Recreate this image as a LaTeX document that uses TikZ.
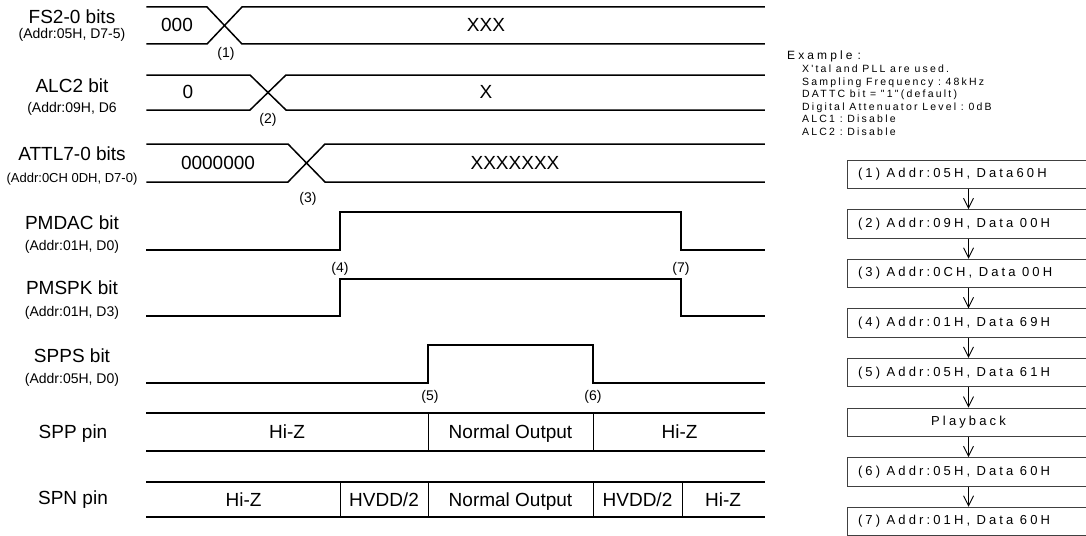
\documentclass[tikz,border=0pt]{standalone}
\usepackage{fontspec}
\setmainfont{Liberation Sans}
\newfontfamily\flowfont[LetterSpace=24]{Liberation Sans}
\newfontfamily\exfont[LetterSpace=21]{Liberation Sans}
\newfontfamily\exhfont[LetterSpace=26]{Liberation Sans}
\newcommand\flowsp{\hspace{6.5pt}}
\newcommand\exsp{\hspace{4.7pt}}
\usetikzlibrary{arrows.meta}
\tikzset{
  sig/.style={line width=1.5pt, line join=miter, line cap=rect},
  divider/.style={line width=1pt},
  biglbl/.style={font=\fontsize{19}{22}\selectfont, inner sep=0pt, text height=13.6pt, text depth=0pt},
  addrlbl/.style={font=\fontsize{14}{16}\selectfont, inner sep=0pt, text height=10pt, text depth=0pt},
  numlbl/.style={font=\fontsize{14}{16}\selectfont, inner sep=0pt, text height=10pt, text depth=0pt},
  exline/.style={font=\exfont\fontsize{10.5}{12}\selectfont, inner sep=0pt, anchor=base west},
  flowbox/.style={draw=black!75, line width=0.9pt, minimum width=243pt, minimum height=28.5pt,
    inner xsep=11pt, inner ysep=0pt, text width=221pt, align=left, font=\flowfont\fontsize{13}{15}\selectfont},
  flowarrow/.style={-{Straight Barb[length=10pt,width=10pt]}, line width=0.9pt},
}
\begin{document}
\begin{tikzpicture}[x=1pt,y=-1pt]
\useasboundingbox (0,0) rectangle (1086,535);
\clip (0,0) rectangle (1086,535);
% ---------------- signal names ----------------
\node[biglbl] (nfs) at (72,17) {FS2-0 bits};
\node[addrlbl] (afs) at (72,33) {(Addr:05H, D7-5)};
\node[biglbl] (nalc) at (72,86) {ALC2 bit};
\node[addrlbl] (aalc) at (72,107) {(Addr:09H, D6};
\node[biglbl] (natt) at (72,154) {ATTL7-0 bits};
\node[addrlbl, font=\fontsize{13}{15}\selectfont] (aatt) at (72,177) {(Addr:0CH 0DH, D7-0)};
\node[biglbl] (npmd) at (72,223) {PMDAC bit};
\node[addrlbl] (apmd) at (72,245) {(Addr:01H, D0)};
\node[biglbl] (npms) at (72,288) {PMSPK bit};
\node[addrlbl] (apms) at (72,311) {(Addr:01H, D3)};
\node[biglbl] (nsps) at (72,356) {SPPS bit};
\node[addrlbl] (asps) at (72,378) {(Addr:05H, D0)};
\node[biglbl] (nspp) at (73,432) {SPP pin};
\node[biglbl] (nspn) at (73,498) {SPN pin};
% ---------------- FS2-0 ----------------
\draw[sig] (147,7) -- (207,7) -- (242,44) -- (764,44);
\draw[sig] (147,44) -- (207,44) -- (242,7) -- (764,7);
\node[biglbl] (vfs0) at (177,25) {000};
\node[biglbl] (vfs1) at (486,25) {XXX};
\node[numlbl] (t1) at (226,52) {(1)};
% ---------------- ALC2 ----------------
\draw[sig] (147,75) -- (250,75) -- (286,110) -- (764,110);
\draw[sig] (147,110) -- (250,110) -- (286,75) -- (764,75);
\node[biglbl] (valc0) at (188,92) {0};
\node[biglbl] (valc1) at (486,92) {X};
\node[numlbl] (t2) at (268,118) {(2)};
% ---------------- ATTL7-0 ----------------
\draw[sig] (147,144) -- (288,144) -- (325,182) -- (764,182);
\draw[sig] (147,182) -- (288,182) -- (325,144) -- (764,144);
\node[biglbl] (vatt0) at (218,163) {0000000};
\node[biglbl] (vatt1) at (515,163) {XXXXXXX};
\node[numlbl] (t3) at (308,197) {(3)};
% ---------------- PMDAC ----------------
\draw[sig] (147,250) -- (340,250) -- (340,212) -- (681,212) -- (681,250) -- (764,250);
% ---------------- PMSPK ----------------
\draw[sig] (147,316) -- (340,316) -- (340,279) -- (681,279) -- (681,316) -- (764,316);
\node[numlbl] (t4) at (340,267) {(4)};
\node[numlbl] (t7) at (681,267) {(7)};
% ---------------- SPPS ----------------
\draw[sig] (147,383) -- (428,383) -- (428,345) -- (593,345) -- (593,383) -- (764,383);
\node[numlbl] (t5) at (430,395) {(5)};
\node[numlbl] (t6) at (593,395) {(6)};
% ---------------- SPP pin ----------------
\draw[sig] (147,413) -- (764,413);
\draw[sig] (147,451) -- (764,451);
\draw[divider] (428,413) -- (428,451);
\draw[divider] (593,413) -- (593,451);
\node[biglbl] (spp1) at (287,432) {Hi-Z};
\node[biglbl] (spp2) at (510.5,432) {Normal Output};
\node[biglbl] (spp3) at (679.5,432) {Hi-Z};
% ---------------- SPN pin ----------------
\draw[sig] (147,482) -- (764,482);
\draw[sig] (147,517) -- (764,517);
\draw[divider] (340,482) -- (340,517);
\draw[divider] (428,482) -- (428,517);
\draw[divider] (593,482) -- (593,517);
\draw[divider] (682,482) -- (682,517);
\node[biglbl] (spn1) at (243.5,499.5) {Hi-Z};
\node[biglbl] (spn2) at (384,499.5) {HVDD/2};
\node[biglbl] (spn3) at (510.5,499.5) {Normal Output};
\node[biglbl] (spn4) at (637.5,499.5) {HVDD/2};
\node[biglbl] (spn5) at (723,499.5) {Hi-Z};
% ---------------- Example ----------------
\node[inner sep=0pt, anchor=base west, font=\exhfont\fontsize{12}{14}\selectfont] (exh) at (787,59.3) {Example\hspace{5pt}:};
\node[exline] (ex1) at (802,72.8) {X'tal\exsp and\exsp PLL\exsp are\exsp used.};
\node[exline] (ex2) at (802,85.3) {Sampling\exsp Frequency\exsp :\exsp 48kHz};
\node[exline] (ex3) at (802,97.8) {DATTC\exsp bit\exsp =\exsp "1"(default)};
\node[exline] (ex4) at (802,110.3) {Digital\exsp Attenuator\exsp Level\exsp :\exsp 0dB};
\node[exline] (ex5) at (802,122.8) {ALC1\exsp :\exsp Disable};
\node[exline] (ex6) at (802,135.3) {ALC2\exsp :\exsp Disable};
% ---------------- flow chart ----------------
\node[flowbox] (b1) at (968.5,174.25) {(1)\flowsp Addr:05H,\flowsp Data60H};
\node[flowbox] (b2) at (968.5,223.85) {(2)\flowsp Addr:09H,\flowsp Data\flowsp 00H};
\node[flowbox] (b3) at (968.5,273.45) {(3)\flowsp Addr:0CH,\flowsp Data\flowsp 00H};
\node[flowbox] (b4) at (968.5,323.05) {(4)\flowsp Addr:01H,\flowsp Data\flowsp 69H};
\node[flowbox] (b5) at (968.5,372.65) {(5)\flowsp Addr:05H,\flowsp Data\flowsp 61H};
\node[flowbox, align=center] (b6) at (968.5,422.25) {Playback};
\node[flowbox] (b7) at (968.5,471.85) {(6)\flowsp Addr:05H,\flowsp Data\flowsp 60H};
\node[flowbox] (b8) at (968.5,521.45) {(7)\flowsp Addr:01H,\flowsp Data\flowsp 60H};
\draw[flowarrow] (b1.south) -- (b2.north);
\draw[flowarrow] (b2.south) -- (b3.north);
\draw[flowarrow] (b3.south) -- (b4.north);
\draw[flowarrow] (b4.south) -- (b5.north);
\draw[flowarrow] (b5.south) -- (b6.north);
\draw[flowarrow] (b6.south) -- (b7.north);
\draw[flowarrow] (b7.south) -- (b8.north);
\end{tikzpicture}
\end{document}
